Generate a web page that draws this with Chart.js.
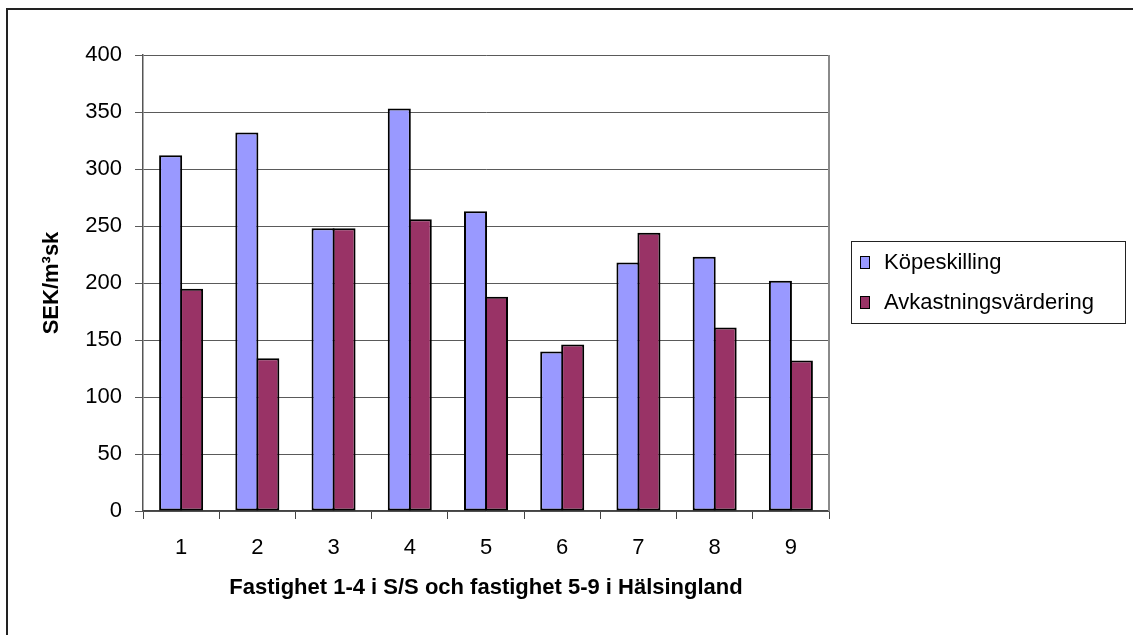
<!DOCTYPE html>
<html><head><meta charset="utf-8">
<script src="https://cdn.jsdelivr.net/npm/chart.js@4.4.0/dist/chart.umd.min.js"></script>
<style>html,body{margin:0;padding:0;background:#fff;} canvas{display:block;}</style>
</head><body>
<canvas id="c" width="1133" height="635"></canvas>
<script>
const categories = ['1', '2', '3', '4', '5', '6', '7', '8', '9'];
const kopeskilling = [312, 332, 248, 353, 263, 140, 218, 223, 202];
const avkastningsvardering = [195, 134, 248, 256, 188, 146, 244, 161, 132];
const seriesNames = ['Köpeskilling', 'Avkastningsvärdering'];
const yAxisTitle = 'SEK/m³sk';
const xAxisTitle = 'Fastighet 1-4 i S/S och fastighet 5-9 i Hälsingland';
const yMin = 0, yMax = 400, yStep = 50;

const FONT = '"Liberation Sans", Arial, sans-serif';

const framePlugin = {
  id: 'frame',
  beforeDraw(chart) {
    const ctx = chart.ctx;
    ctx.save();
    ctx.fillStyle = '#fff';
    ctx.fillRect(0, 0, chart.width, chart.height);
    ctx.strokeStyle = '#222';
    ctx.lineWidth = 2;
    ctx.strokeRect(7, 9, chart.width + 20, chart.height + 20);
    ctx.restore();
  },
  afterDraw(chart) {
    const ctx = chart.ctx;
    const a = chart.chartArea;
    ctx.save();
    ctx.strokeStyle = '#8a8a8a';
    ctx.lineWidth = 2;
    ctx.beginPath();
    ctx.moveTo(a.right, a.top);
    ctx.lineTo(a.right, a.bottom);
    ctx.stroke();
    const lx = a.right + 22, ly = 241, lw = 274, lh = 82;
    ctx.strokeStyle = '#222';
    ctx.lineWidth = 1;
    ctx.strokeRect(lx + 0.5, ly + 0.5, lw, lh);
    ctx.font = '22px ' + FONT;
    ctx.textBaseline = 'middle';
    ctx.textAlign = 'left';
    chart.data.datasets.forEach((ds, i) => {
      const cy = ly + 21 + i * 40;
      ctx.fillStyle = ds.backgroundColor;
      ctx.fillRect(lx + 9, cy - 6, 10, 13);
      ctx.strokeStyle = '#000';
      ctx.lineWidth = 1;
      ctx.strokeRect(lx + 9.5, cy - 5.5, 9, 12);
      ctx.fillStyle = '#000';
      ctx.fillText(ds.label, lx + 33, cy + 1);
    });
    ctx.restore();
  }
};

new Chart(document.getElementById('c'), {
  type: 'bar',
  data: {
    labels: categories,
    datasets: [
      { label: seriesNames[0], data: kopeskilling, backgroundColor: '#9999FF', borderColor: '#000', borderWidth: 2, borderSkipped: false },
      { label: seriesNames[1], data: avkastningsvardering, backgroundColor: '#993366', borderColor: '#000', borderWidth: 2, borderSkipped: false }
    ]
  },
  options: {
    responsive: false,
    animation: false,
    devicePixelRatio: 1,
    layout: { padding: { left: 20, top: 55, right: 304, bottom: 24 } },
    datasets: { bar: { categoryPercentage: 0.55, barPercentage: 1.1 } },
    plugins: { legend: { display: false }, tooltip: { enabled: false }, title: { display: false } },
    scales: {
      x: {
        afterFit(s) { s.height = 100; },
        grid: { offset: true, drawOnChartArea: false, drawTicks: true, tickLength: 8, color: '#444', lineWidth: 1 },
        border: { display: true, color: '#444', width: 1.5 },
        ticks: { color: '#000', padding: 16, font: { family: FONT, size: 22 }, maxRotation: 0 },
        title: { display: true, text: xAxisTitle, color: '#000', font: { family: FONT, size: 22, weight: 'bold' }, padding: { top: 4, bottom: 10 } }
      },
      y: {
        min: yMin, max: yMax,
        afterFit(s) { s.width = 123; },
        grid: { color: '#5a5a5a', lineWidth: 1, tickLength: 8, drawTicks: true },
        border: { display: true, color: '#555', width: 1.5 },
        ticks: { stepSize: yStep, color: '#000', padding: 13, font: { family: FONT, size: 22 } },
        title: { display: true, text: yAxisTitle, color: '#000', font: { family: FONT, size: 22, weight: 'bold' }, padding: { top: 19, bottom: 0 } }
      }
    }
  },
  plugins: [framePlugin]
});
</script>
</body></html>
